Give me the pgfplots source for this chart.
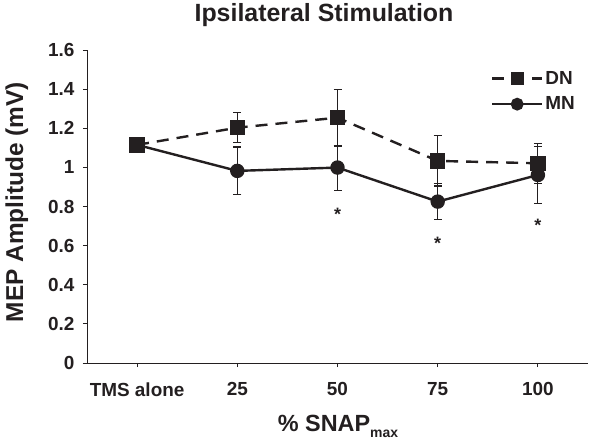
\documentclass[border=0pt]{standalone}
\usepackage{fontspec}
\setmainfont{Liberation Sans}
\usepackage{pgfplots}
\pgfplotsset{compat=1.18}
\definecolor{ink}{RGB}{35,31,32}
\begin{document}
\begin{tikzpicture}[font=\bfseries, text=ink]
\begin{axis}[
  scale only axis,
  width=501bp, height=313bp,
  clip=false,
  xmin=-0.5, xmax=4.5,
  ymin=0, ymax=1.6,
  xtick={0,1,2,3,4},
  xticklabels={TMS alone,25,50,75,100},
  ytick={0,0.2,0.4,0.6,0.8,1,1.2,1.4,1.6},
  yticklabels={0,0.2,0.4,0.6,0.8,1,1.2,1.4,1.6},
  axis lines=left,
  axis line style={-, draw=ink, line width=0.9bp},
  x axis line style={shorten <=-4bp},
  tick style={draw=ink, line width=0.9bp},
  tick align=outside,
  major tick length=4bp,
  ticklabel style={font=\bfseries\fontsize{19}{19}\selectfont, text=ink},
  xticklabel style={yshift=-12bp},
  yticklabel style={xshift=-5bp},
  xlabel={\% SNAP\raisebox{-6bp}{\fontsize{14}{14}\selectfont max}},
  ylabel={MEP Amplitude (mV)},
  xlabel style={at={(axis description cs:0.501,-0.2204)}, anchor=base, font=\bfseries\fontsize{23.5}{23.5}\selectfont},
  ylabel style={at={(axis description cs:-0.14,0.514)}, anchor=center, font=\bfseries\fontsize{24.5}{24.5}\selectfont},
  legend style={at={(axis description cs:0.80,0.945)}, anchor=north west, draw=none, fill=none,
    font=\bfseries\fontsize{19}{19}\selectfont, text=ink, row sep=7bp},
  legend cell align=left,
  reverse legend,
  legend image code/.code={\draw[mark repeat=2,mark phase=2,#1,mark size=5.2bp] plot coordinates {(0bp,0bp)(25bp,0bp)(50bp,0bp)};},
]
\addplot[draw=ink, line width=2.4bp, mark=*, mark size=6bp, mark options={fill=ink, solid},
  error bars/.cd, y dir=both, y explicit,
  error bar style={line width=1.1bp, draw=ink, solid},
  error mark options={rotate=90, mark size=4bp, line width=1.1bp, draw=ink}]
  coordinates {
  (0,1.115) +- (0,0.03)
  (1,0.982) +- (0,0.122)
  (2,0.999) +- (0,0.115)
  (3,0.825) +- (0,0.092)
  (4,0.961) +- (0,0.147)
};
\addlegendentry{MN}
\addplot[draw=ink, line width=2.4bp, dash pattern=on 12bp off 8bp, mark=square*, mark size=6.5bp, mark options={fill=ink, solid},
  error bars/.cd, y dir=both, y explicit,
  error bar style={line width=1.1bp, draw=ink, solid},
  error mark options={rotate=90, mark size=4bp, line width=1.1bp, draw=ink}]
  coordinates {
  (0,1.115) +- (0,0.03)
  (1,1.203) +- (0,0.078)
  (2,1.254) +- (0,0.145)
  (3,1.033) +- (0,0.128)
  (4,1.021) +- (0,0.102)
};
\addlegendentry{DN}
\node[font=\bfseries\fontsize{18}{18}\selectfont, text=ink, yshift=-3bp] at (axis cs:2,0.774) {*};
\node[font=\bfseries\fontsize{18}{18}\selectfont, text=ink, yshift=-3bp] at (axis cs:3,0.629) {*};
\node[font=\bfseries\fontsize{18}{18}\selectfont, text=ink, yshift=-3bp] at (axis cs:4,0.717) {*};
\end{axis}
\node[font=\bfseries\fontsize{25}{25}\selectfont, text=ink] at (237bp,348bp) {Ipsilateral Stimulation};
\pgfresetboundingbox
\path (-87bp,-84bp) rectangle (502bp,363bp);
\end{tikzpicture}
\end{document}
